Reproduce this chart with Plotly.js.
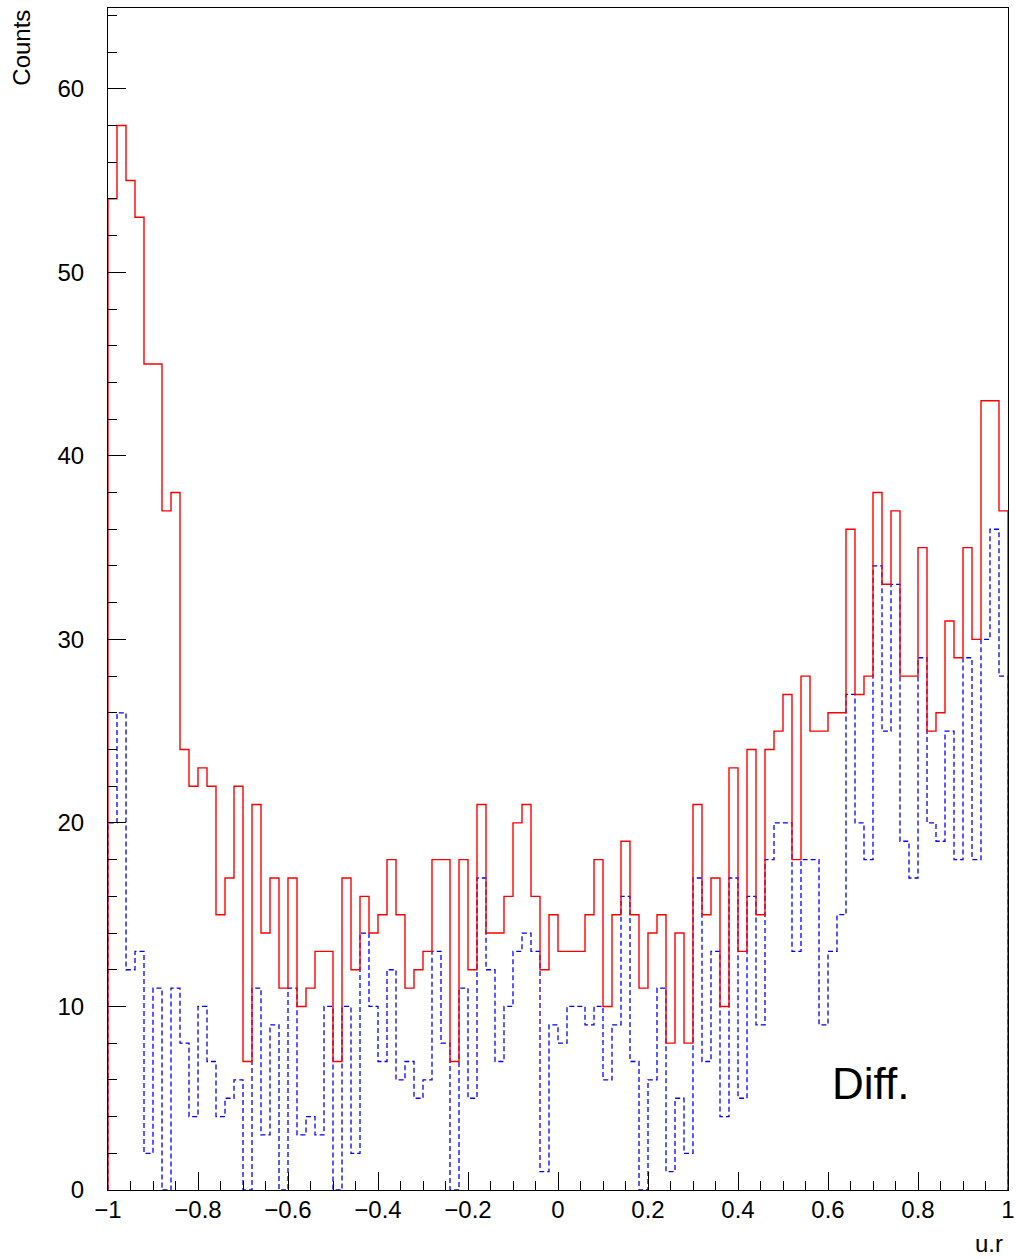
<!DOCTYPE html>
<html>
<head>
<meta charset="utf-8">
<script src="https://cdn.plot.ly/plotly-3.0.1.min.js"></script>
<style>
  html, body { margin: 0; padding: 0; background: #ffffff; }
  #chart { width: 1018px; height: 1258px; }
</style>
</head>
<body>
<div id="chart"></div>
<script>
// Histogram binning (100 bins over u.r from -1 to 1)
const binLow = -1;
const binHigh = 1;
const nBins = 100;

// Red (solid) histogram counts, one per bin
const redCounts = [
  54, 58, 55, 53, 45, 45, 37, 38, 24, 22,
  23, 22, 15, 17, 22, 7, 21, 14, 17, 11,
  17, 10, 11, 13, 13, 7, 17, 12, 16, 14,
  15, 18, 15, 11, 12, 13, 18, 18, 7, 18,
  12, 21, 14, 14, 16, 20, 21, 16, 12, 15,
  13, 13, 13, 15, 18, 10, 15, 19, 15, 11,
  14, 15, 8, 14, 8, 21, 15, 17, 10, 23,
  13, 24, 15, 24, 25, 27, 18, 28, 25, 25,
  26, 26, 36, 27, 28, 38, 33, 37, 28, 28,
  35, 25, 26, 31, 29, 35, 30, 43, 43, 37
];

// Blue (dashed) histogram counts, one per bin
const blueCounts = [
  20, 26, 12, 13, 2, 11, 0, 11, 8, 4,
  10, 7, 4, 5, 6, 0, 11, 3, 9, 0,
  11, 3, 4, 3, 10, 0, 10, 2, 14, 10,
  7, 12, 6, 7, 5, 6, 13, 8, 0, 11,
  5, 17, 12, 7, 10, 13, 14, 13, 1, 9,
  8, 10, 10, 9, 10, 6, 9, 16, 7, 0,
  6, 11, 1, 5, 2, 17, 7, 13, 4, 17,
  5, 16, 9, 18, 20, 20, 13, 18, 18, 9,
  13, 15, 27, 20, 18, 34, 25, 33, 19, 17,
  29, 20, 19, 25, 18, 29, 18, 30, 36, 28
];

// Axis tick labels
const xTickVals = [-1, -0.8, -0.6, -0.4, -0.2, 0, 0.2, 0.4, 0.6, 0.8, 1];
const xTickText = ['\u22121', '\u22120.8', '\u22120.6', '\u22120.4', '\u22120.2', '0', '0.2', '0.4', '0.6', '0.8', '1'];
const yTickVals = [0, 10, 20, 30, 40, 50, 60];
const yTickText = ['0', '10', '20', '30', '40', '50', '60'];

const xTitle = 'u.r';
const yTitle = 'Counts';
const panelLabel = 'Diff.';

// Build a ROOT-style histogram outline (step path) from bin counts
function stepPath(counts) {
  const w = (binHigh - binLow) / nBins;
  const xs = [binLow];
  const ys = [0];
  for (let i = 0; i < counts.length; i++) {
    xs.push(binLow + i * w);
    ys.push(counts[i]);
  }
  xs.push(binHigh);
  ys.push(counts[counts.length - 1]);
  xs.push(binHigh);
  ys.push(0);
  return { xs, ys };
}

const red = stepPath(redCounts);
const blue = stepPath(blueCounts);

const traces = [
  {
    type: 'scatter', mode: 'lines',
    x: blue.xs, y: blue.ys,
    line: { shape: 'hv', color: '#0000ff', width: 1.3, dash: '5px,3px' },
    hoverinfo: 'skip', showlegend: false
  },
  {
    type: 'scatter', mode: 'lines',
    x: red.xs, y: red.ys,
    line: { shape: 'hv', color: '#ff0000', width: 1.4 },
    hoverinfo: 'skip', showlegend: false
  }
];

const tickFont = { family: 'Liberation Sans, Arial, sans-serif', size: 24, color: '#000000' };

const layout = {
  width: 1018,
  height: 1258,
  margin: { l: 108, r: 10, t: 8, b: 68, pad: 0 },
  paper_bgcolor: '#ffffff',
  plot_bgcolor: '#ffffff',
  showlegend: false,
  xaxis: {
    range: [binLow, binHigh],
    showgrid: false, zeroline: false,
    showline: true, linecolor: '#000000', linewidth: 1, mirror: true,
    ticks: 'inside', ticklen: 18, tickwidth: 1, tickcolor: '#000000',
    tickmode: 'array', tickvals: xTickVals, ticktext: xTickText,
    tickangle: 0,
    tickfont: tickFont,
    ticklabelstandoff: -2,
    minor: { dtick: 0.05, tick0: -1, ticks: 'inside', ticklen: 9, tickwidth: 1, tickcolor: '#000000', showgrid: false }
  },
  yaxis: {
    range: [0, 64.4],
    showgrid: false, zeroline: false,
    showline: true, linecolor: '#000000', linewidth: 1, mirror: true,
    ticks: 'inside', ticklen: 18, tickwidth: 1, tickcolor: '#000000',
    tickmode: 'array', tickvals: yTickVals, ticktext: yTickText,
    tickfont: tickFont,
    ticklabelstandoff: 18,
    minor: { dtick: 2, tick0: 0, ticks: 'inside', ticklen: 9, tickwidth: 1, tickcolor: '#000000', showgrid: false }
  },
  annotations: [
    {
      text: yTitle, xref: 'paper', yref: 'paper',
      x: -0.097, y: 1.0, xanchor: 'center', yanchor: 'top',
      textangle: -90, showarrow: false,
      font: { family: 'Liberation Sans, Arial, sans-serif', size: 24, color: '#000000' }
    },
    {
      text: xTitle, xref: 'paper', yref: 'paper',
      x: 0.997, y: -0.045, xanchor: 'right', yanchor: 'middle',
      showarrow: false,
      font: { family: 'Liberation Sans, Arial, sans-serif', size: 24, color: '#000000' }
    },
    {
      text: panelLabel, xref: 'paper', yref: 'paper',
      x: 0.802, y: 0.068, xanchor: 'left', yanchor: 'bottom',
      showarrow: false,
      font: { family: 'Liberation Sans, Arial, sans-serif', size: 44, color: '#000000' }
    }
  ]
};

Plotly.newPlot('chart', traces, layout, { displayModeBar: false, staticPlot: true });
</script>
</body>
</html>
